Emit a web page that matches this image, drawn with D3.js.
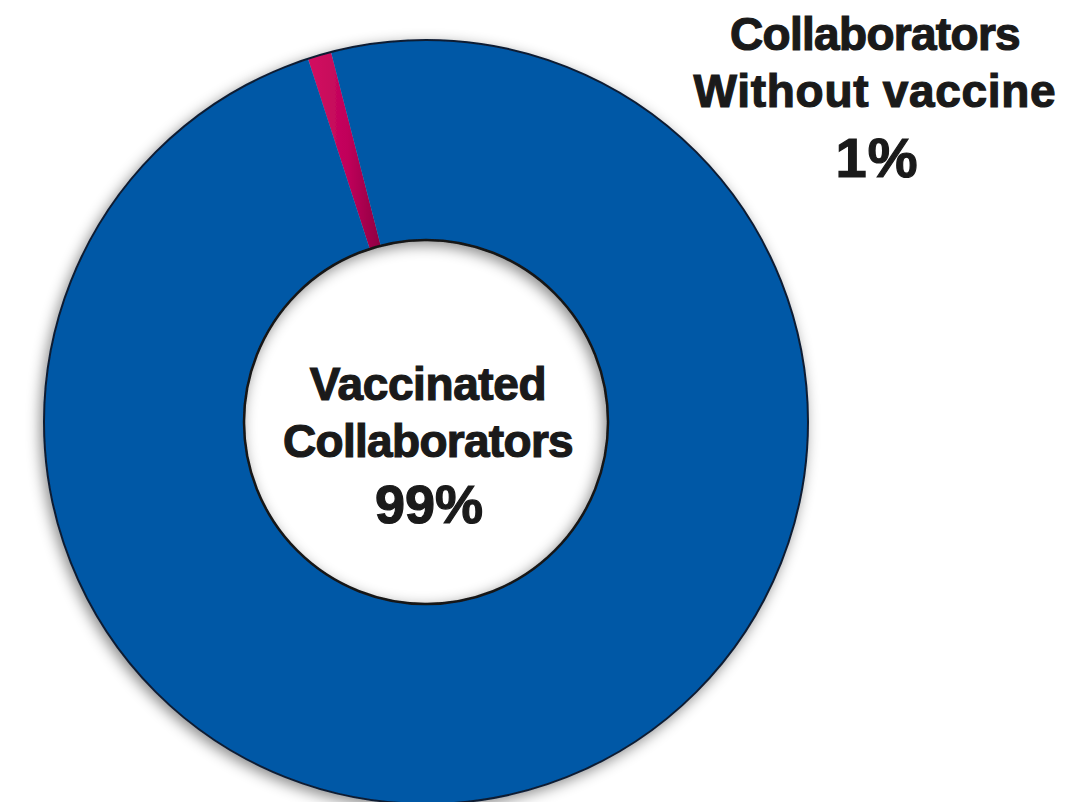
<!DOCTYPE html>
<html>
<head>
<meta charset="utf-8">
<script src="https://cdn.jsdelivr.net/npm/d3@7"></script>
<style>
    html,body{margin:0;padding:0;background:#fff;}
    #chart{width:1092px;height:802px;}
</style>
</head>
<body>
<div id="chart"></div>
<script>
//数据
var categories=["Collaborators Without vaccine","Vaccinated Collaborators"];
var values=[1,99];
var labelLines=[["Collaborators","Without vaccine"],["Vaccinated","Collaborators"]];
var percentLabels=["1%","99%"];
var colors=["#c8005a","#0058a6"];

function drawDonut(divName){
    var svgwidth=1092,svgheight=802;
    var _svg=d3.select("#"+divName)
        .append("svg")
        .attr("width",svgwidth)
        .attr("height",svgheight);
    //圆心与半径
    var cx=426,cy=422;
    var outerR=382,innerR=182;
    //阴影与渐变
    var defs=_svg.append("defs");
    var f=defs.append("filter")
        .attr("id","shadow")
        .attr("x","-20%").attr("y","-20%")
        .attr("width","140%").attr("height","140%");
    f.append("feDropShadow")
        .attr("dx",-3)
        .attr("dy",4)
        .attr("stdDeviation",7)
        .attr("flood-color","#000")
        .attr("flood-opacity",0.45);
    var g=defs.append("linearGradient")
        .attr("id","sliceGrad")
        .attr("x1","0").attr("y1","0")
        .attr("x2","1").attr("y2","0");
    g.append("stop").attr("offset","0%").style("stop-color","#d3115f");
    g.append("stop").attr("offset","55%").style("stop-color","#c0025a");
    g.append("stop").attr("offset","100%").style("stop-color","#8f0042");

    var start=-18*Math.PI/180;
    var pie=d3.pie()
        .sort(null)
        .startAngle(start)
        .endAngle(start+2*Math.PI)
        .value(function(d){return d;});
    var arc=d3.arc()
        .innerRadius(innerR)
        .outerRadius(outerR);

    var gRing=_svg.append("g")
        .attr("transform","translate("+cx+","+cy+")")
        .attr("filter","url(#shadow)");
    gRing.selectAll("path")
        .data(pie(values))
        .enter()
        .append("path")
        .attr("d",arc)
        .attr("fill",function(d,i){return i==0?"url(#sliceGrad)":colors[i];});
    //外圈和内圈描边
    gRing.append("circle").attr("r",outerR).attr("fill","none")
        .attr("stroke","#0d1c33").attr("stroke-width",2);
    gRing.append("circle").attr("r",innerR).attr("fill","none")
        .attr("stroke","#151515").attr("stroke-width",2.5);

    //文字
    var font="'Liberation Sans', Arial, sans-serif";
    var tg=_svg.append("g")
        .attr("font-family",font)
        .attr("font-weight","bold")
        .attr("fill","#1a1a1a")
        .attr("stroke","#1a1a1a")
        .attr("stroke-width",1.2)
        .attr("text-anchor","middle");
    //中间标签
    tg.selectAll("text.inner")
        .data(labelLines[1])
        .enter()
        .append("text")
        .attr("class","inner")
        .attr("x",cx+2)
        .attr("y",function(d,i){return 400+i*57;})
        .attr("font-size","46px")
        .attr("letter-spacing",function(d,i){return i==1?"-0.7px":"-0.4px";})
        .text(function(d){return d;});
    tg.append("text")
        .attr("x",cx+3)
        .attr("y",523)
        .attr("font-size","54px")
        .text(percentLabels[1]);
    //右上角标签
    tg.selectAll("text.outer")
        .data(labelLines[0])
        .enter()
        .append("text")
        .attr("class","outer")
        .attr("x",875)
        .attr("y",function(d,i){return 50+i*57;})
        .attr("font-size","46px")
        .attr("letter-spacing",function(d,i){return i==0?"-0.7px":"0.7px";})
        .text(function(d){return d;});
    tg.append("text")
        .attr("x",877)
        .attr("y",177)
        .attr("font-size","56px")
        .attr("letter-spacing","1px")
        .text(percentLabels[0]);
}
drawDonut("chart");
</script>
</body>
</html>
